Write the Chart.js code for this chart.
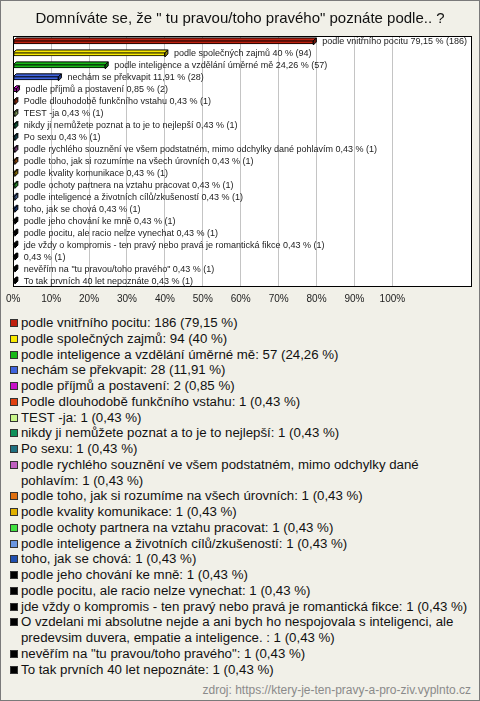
<!DOCTYPE html>
<html>
<head>
<meta charset="utf-8">
<script src="https://cdn.jsdelivr.net/npm/chart.js@4.4.1/dist/chart.umd.min.js"></script>
<style>
  html, body { margin: 0; padding: 0; }
  body { width: 480px; height: 701px; overflow: hidden; font-family: "Liberation Sans", Arial, sans-serif; }
  #wrap { position: relative; width: 480px; height: 701px; box-sizing: border-box; border: 1px solid #7a7a7a; background: #f1f0e8; }
  #title { position: absolute; left: 0; width: 478px; top: 8px; text-align: center; font-size: 15px; color: #111; line-height: 18px; }
  #chart { position: absolute; left: -1px; top: -1px; }
  #legend { position: absolute; left: 9px; top: 314px; width: 464px; font-size: 13.25px; line-height: 15.75px; color: #111; }
  .li { position: relative; padding-left: 11px; }
  .sq { position: absolute; left: 0; top: 4px; width: 6px; height: 6px; border: 1px solid #333; }
  #src { position: absolute; right: 8px; top: 682px; font-size: 12px; color: #8a8a8a; }
</style>
</head>
<body>
<div id="wrap">
  <canvas id="chart" width="480" height="310"></canvas>
  <div id="title"></div>
  <div id="legend"></div>
  <div id="src"></div>
</div>
<script>
const chartTitle = 'Domníváte se, že " tu pravou/toho pravého" poznáte podle.. ?';
const sourceText = 'zdroj: https://ktery-je-ten-pravy-a-pro-ziv.vyplnto.cz';

const categories = [
  'podle vnitřního pocitu',
  'podle společných zajmů',
  'podle inteligence a vzdělání úměrné mě',
  'nechám se překvapit',
  'podle příjmů a postavení',
  'Podle dlouhodobě funkčního vstahu',
  'TEST -ja',
  'nikdy ji nemůžete poznat a to je to nejlepší',
  'Po sexu',
  'podle rychlého souznění ve všem podstatném, mimo odchylky dané pohlavím',
  'podle toho, jak si rozumíme na všech úrovních',
  'podle kvality komunikace',
  'podle ochoty partnera na vztahu pracovat',
  'podle inteligence a životních cílů/zkušeností',
  'toho, jak se chová',
  'podle jeho chování ke mně',
  'podle pocitu, ale racio nelze vynechat',
  'jde vždy o kompromis - ten pravý nebo pravá je romantická fikce',
  'O vzdelani mi absolutne nejde a ani bych ho nespojovala s inteligenci, ale predevsim duvera, empatie a inteligence. ',
  'nevěřím na "tu pravou/toho pravého"',
  'To tak prvních 40 let nepoznáte'
];
const counts = [186, 94, 57, 28, 2, 1, 1, 1, 1, 1, 1, 1, 1, 1, 1, 1, 1, 1, 1, 1, 1];
const percents = [79.15, 40, 24.26, 11.91, 0.85, 0.43, 0.43, 0.43, 0.43, 0.43, 0.43, 0.43, 0.43, 0.43, 0.43, 0.43, 0.43, 0.43, 0.43, 0.43, 0.43];
const colors = [
  '#c0200f', '#f8ea00', '#18b818', '#3f63dd', '#c810c8', '#e04010', '#c8f58a',
  '#10905a', '#1e7080', '#c060c0', '#e07010', '#e0b000', '#40e040', '#6a96e0',
  '#2050b0', '#000000', '#000000', '#000000', '#000000', '#000000', '#000000'
];
const xTickValues = [0, 10, 20, 30, 40, 50, 60, 70, 80, 90, 100];
const xMax = 121;
const maxBarNameLength = 100;

function fmtPct(v) { return String(v).replace('.', ','); }

document.getElementById('title').textContent = chartTitle;
document.getElementById('src').textContent = sourceText;

const legend = document.getElementById('legend');
categories.forEach((c, i) => {
  const d = document.createElement('div');
  d.className = 'li';
  const s = document.createElement('span');
  s.className = 'sq';
  s.style.background = colors[i];
  d.appendChild(s);
  d.appendChild(document.createTextNode(c + ': ' + counts[i] + ' (' + fmtPct(percents[i]) + ' %)'));
  legend.appendChild(d);
});

const FONT = '"Liberation Sans", Arial, sans-serif';
const DEPTH = 3;

function shade(hex, f) {
  const n = parseInt(hex.slice(1), 16);
  const r = Math.round(((n >> 16) & 255) * f), g = Math.round(((n >> 8) & 255) * f), b = Math.round((n & 255) * f);
  return 'rgb(' + r + ',' + g + ',' + b + ')';
}

const boxPlugin = {
  id: 'box',
  beforeDraw(chart) {
    const a = chart.chartArea, ctx = chart.ctx;
    ctx.save();
    ctx.fillStyle = '#ffffff';
    ctx.fillRect(a.left, a.top, a.right - a.left, a.bottom - a.top);
    ctx.restore();
  },
  afterDatasetsDraw(chart) {
    const a = chart.chartArea, ctx = chart.ctx;
    const meta = chart.getDatasetMeta(0);
    const x0 = chart.scales.x.getPixelForValue(0);
    ctx.save();
    meta.data.forEach((bar, i) => {
      const h = bar.height;
      const x1 = bar.x, yt = bar.y - h / 2 + 1, yb = bar.y + h / 2 + 1;
      ctx.lineWidth = 1;
      ctx.strokeStyle = '#000';
      // top face
      ctx.beginPath();
      ctx.moveTo(x0, yt); ctx.lineTo(x0 + DEPTH, yt - DEPTH); ctx.lineTo(x1 + DEPTH, yt - DEPTH); ctx.lineTo(x1, yt); ctx.closePath();
      ctx.fillStyle = colors[i]; ctx.fill(); ctx.stroke();
      // right face
      ctx.beginPath();
      ctx.moveTo(x1, yt); ctx.lineTo(x1 + DEPTH, yt - DEPTH); ctx.lineTo(x1 + DEPTH, yb - DEPTH); ctx.lineTo(x1, yb); ctx.closePath();
      ctx.fillStyle = shade(colors[i], 0.6); ctx.fill(); ctx.stroke();
      // value label
      const name = categories[i].length > maxBarNameLength ? '' : categories[i] + ' ';
      const txt = name + fmtPct(percents[i]) + ' % (' + counts[i] + ')';
      ctx.font = '9px ' + FONT;
      ctx.fillStyle = '#222';
      ctx.textBaseline = 'middle';
      ctx.textAlign = 'left';
      ctx.fillText(txt, x1 + DEPTH + 6, bar.y);
    });
    ctx.strokeStyle = '#000';
    ctx.lineWidth = 1;
    ctx.strokeRect(Math.round(a.left) + 0.5, Math.round(a.top) + 0.5, Math.round(a.right - a.left) - 1, Math.round(a.bottom - a.top) - 1);
    ctx.restore();
  }
};

new Chart(document.getElementById('chart'), {
  type: 'bar',
  data: {
    labels: categories,
    datasets: [{
      data: percents,
      backgroundColor: colors,
      borderColor: '#000',
      borderWidth: 1,
      borderSkipped: false,
      barThickness: 4
    }]
  },
  options: {
    indexAxis: 'y',
    responsive: false,
    animation: false,
    devicePixelRatio: 1,
    layout: { padding: { left: 11, right: 8, top: 36, bottom: 0 } },
    plugins: { legend: { display: false }, tooltip: { enabled: false }, title: { display: false } },
    scales: {
      x: {
        min: 0,
        max: xMax,
        afterBuildTicks: s => { s.ticks = xTickValues.map(v => ({ value: v })); },
        afterFit: s => { s.height = 23; },
        ticks: {
          callback: v => v + '%',
          font: { family: FONT, size: 10 },
          color: '#222',
          padding: 6,
          maxRotation: 0,
          autoSkip: false
        },
        grid: {
          color: c => (c.tick && c.tick.value > 0) ? '#c4c4c4' : 'rgba(0,0,0,0)',
          drawTicks: false
        },
        border: { display: false }
      },
      y: { display: false }
    }
  },
  plugins: [boxPlugin]
});
</script>
</body>
</html>
